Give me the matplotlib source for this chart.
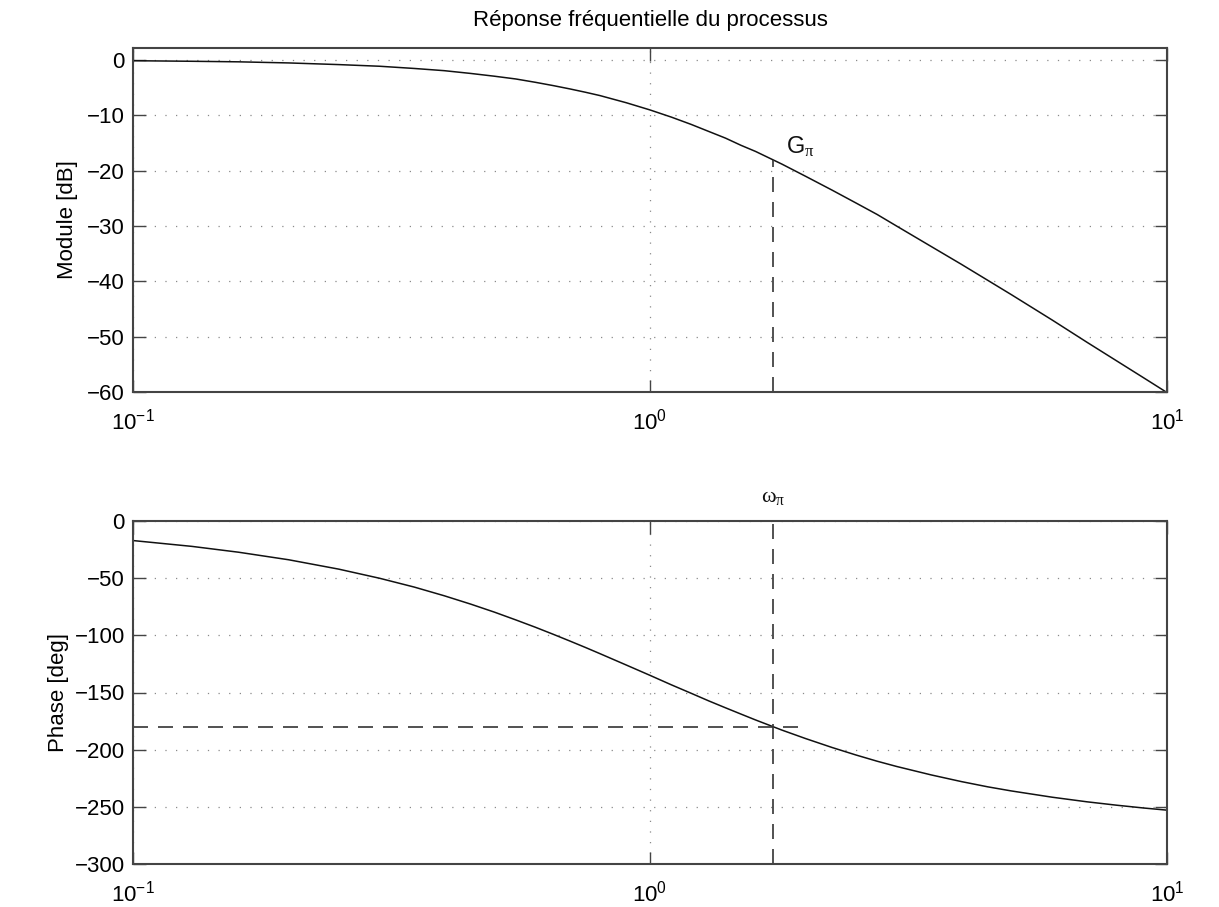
import matplotlib
matplotlib.use("Agg")
import matplotlib.pyplot as plt
from matplotlib.ticker import FixedLocator, LogFormatterSciNotation, NullLocator

plt.rcParams["font.family"] = ["Liberation Sans", "DejaVu Sans"]
plt.rcParams["mathtext.fontset"] = "custom"
plt.rcParams["mathtext.rm"] = "Liberation Sans"
plt.rcParams["mathtext.it"] = "Liberation Serif"
plt.rcParams["mathtext.bf"] = "Liberation Sans:bold"
plt.rcParams["axes.unicode_minus"] = True

# Frequency response of the process (rad/s, dB, deg)
freq = [0.1, 0.13, 0.16, 0.2, 0.25, 0.3, 0.35, 0.4, 0.45, 0.5, 0.55, 0.6,
        0.65, 0.7, 0.75, 0.8, 0.9, 1.0, 1.1, 1.2, 1.3, 1.4, 1.5, 1.6, 1.8,
        2.0, 2.25, 2.5, 2.75, 3.0, 3.5, 4.0, 4.5, 5.0, 6.0, 7.0, 8.0, 9.0,
        10.0]
module_db = [-0.1, -0.2, -0.3, -0.5, -0.8, -1.1, -1.5, -1.9, -2.4, -2.9,
             -3.4, -4.0, -4.6, -5.2, -5.8, -6.4, -7.7, -9.0, -10.3, -11.6,
             -12.9, -14.1, -15.4, -16.5, -18.8, -21.0, -23.5, -25.8, -27.9,
             -30.0, -33.7, -36.9, -39.8, -42.4, -47.0, -51.0, -54.4, -57.4,
             -60.1]
phase_deg = [-17.1, -22.2, -27.3, -33.9, -42.1, -50.1, -57.8, -65.4, -72.7,
             -79.7, -86.5, -92.9, -99.1, -105.0, -110.6, -116.0, -126.0,
             -135.0, -143.3, -150.6, -157.4, -163.4, -168.9, -174.0, -182.9,
             -190.3, -198.1, -204.6, -210.1, -214.7, -222.1, -227.9, -232.5,
             -236.1, -241.6, -245.6, -248.6, -251.0, -252.9]

# Phase crossover point
w_pi = 1.73
g_pi = -18.1
phase_ref = -180
phase_ref_end = 2.0

xticks = [0.1, 1, 10]
mod_ticks = [0, -10, -20, -30, -40, -50, -60]
phase_ticks = [0, -50, -100, -150, -200, -250, -300]

W, H = 1219, 907
fig = plt.figure(figsize=(W / 100, H / 100), dpi=100)
ax1 = fig.add_axes([133 / W, 1 - 392 / H, (1167 - 133) / W, (392 - 48) / H])
ax2 = fig.add_axes([133 / W, 1 - 864 / H, (1167 - 133) / W, (864 - 521) / H])

FS = 16
grid_kw = dict(color="#8a8a8a", linestyle=(0, (1, 7.5)), linewidth=0.9)


def style(ax, yticks, ylim):
    ax.set_xscale("log")
    ax.set_xlim(0.1, 10)
    ax.set_ylim(*ylim)
    ax.xaxis.set_major_locator(FixedLocator(xticks))
    ax.xaxis.set_minor_locator(NullLocator())
    ax.xaxis.set_major_formatter(LogFormatterSciNotation())
    ax.set_yticks(yticks)
    ax.tick_params(axis="both", which="major", direction="in", length=9,
                   width=1.0, color="#444444", top=True, right=True,
                   labelsize=FS, pad=6)
    ax.tick_params(axis="x", pad=12)
    for s in ax.spines.values():
        s.set_linewidth(1.5)
        s.set_color("#444444")
    ax.grid(True, which="major", **grid_kw)
    ax.set_axisbelow(True)


style(ax1, mod_ticks, (-60, 2.2))
style(ax2, phase_ticks, (-300, 0))

ax1.plot(freq, module_db, color="#111111", linewidth=1.1)
ax1.plot([w_pi, w_pi], [-60, g_pi], color="#333333", linewidth=1.2,
         linestyle=(0, (9, 6)))
ax1.text(1.83, -17.0, r"$\mathrm{G}_{\pi}$", fontsize=FS + 1, color="#111111")
ax1.set_ylabel("Module [dB]", fontsize=FS, labelpad=6)
ax1.set_title("Réponse fréquentielle du processus", fontsize=FS, pad=16)

ax2.plot(freq, phase_deg, color="#111111", linewidth=1.1)
ax2.plot([w_pi, w_pi], [-300, 0], color="#333333", linewidth=1.2,
         linestyle=(0, (9, 6)))
ax2.plot([0.1, phase_ref_end], [phase_ref, phase_ref], color="#333333",
         linewidth=1.2, linestyle=(0, (9, 6)))
ax2.text(w_pi, 12, r"$\omega_{\pi}$", fontsize=FS, color="#111111",
         ha="center", va="bottom", clip_on=False)
ax2.set_ylabel("Phase [deg]", fontsize=FS, labelpad=4)

fig.savefig("out.png", dpi=100, facecolor="white")
